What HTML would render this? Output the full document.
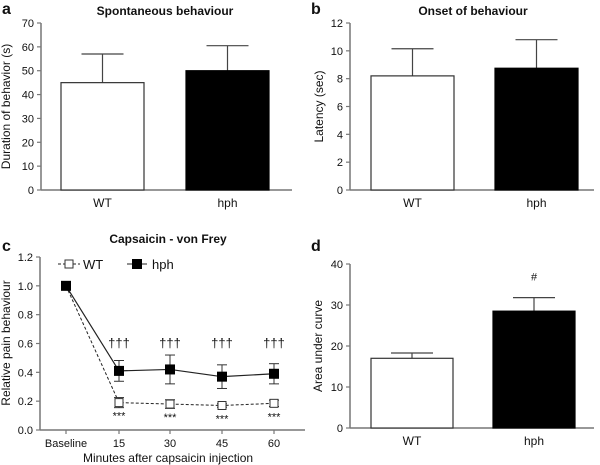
<!DOCTYPE html>
<html><head><meta charset="utf-8"><style>
body{margin:0;background:#fff}
svg{display:block;font-family:"Liberation Sans",Arial,sans-serif}
</style></head><body>
<svg id="s" width="600" height="465" viewBox="0 0 600 465"></svg>
<script>
// Panel a
const catsAB = ["WT","hph"];
const aValues = [45, 50];
const aErrors = [12, 10.5];
const aTicks = [0,10,20,30,40,50,60,70];
// Panel b
const bValues = [8.2, 8.75];
const bErrors = [1.95, 2.05];
const bTicks = [0,2,4,6,8,10,12];
// Panel c
const cCats = ["Baseline","15","30","45","60"];
const cWT = [1, 0.19, 0.18, 0.17, 0.185];
const cWTerr = [0, 0.035, 0.03, 0.012, 0.022];
const cHph = [1, 0.41, 0.42, 0.37, 0.39];
const cHphErr = [0, 0.072, 0.1, 0.082, 0.07];
const cTicks = ["0.0","0.2","0.4","0.6","0.8","1.0","1.2"];
// Panel d
const dValues = [17, 28.5];
const dErrors = [1.3, 3.3];
const dTicks = [0,10,20,30,40];

const S = document.getElementById('s');
const NS = "http://www.w3.org/2000/svg";
function el(tag, attrs, name, parent){
  const e = document.createElementNS(NS, tag);
  for (const k in attrs) e.setAttribute(k, attrs[k]);
  
  
  (parent||S).appendChild(e);
  return e;
}
function txt(x,y,s,name,opt){
  opt=opt||{};
  const t = el('text',{x:x,y:y,'font-size':opt.size||11,'text-anchor':opt.anchor||'middle','font-weight':opt.bold?'bold':'normal',fill:'#111'},name);
  if(opt.rot) t.setAttribute('transform','rotate(-90 '+x+' '+y+')');
  t.textContent=s; return t;
}
const AX = '#777';

function barPanel(p){
  const ys = v => p.y0 - (v - p.min)/(p.max - p.min)*(p.y0 - p.yTop);
  el('line',{x1:p.ax,y1:p.yTop,x2:p.ax,y2:p.y0,stroke:AX,'stroke-width':1.5},p.id+'-y-axis');
  el('line',{x1:p.ax,y1:p.y0,x2:p.axEnd,y2:p.y0,stroke:AX,'stroke-width':1.5},p.id+'-x-axis');
  p.ticks.forEach(t=>{
    el('line',{x1:p.ax-4,y1:ys(t),x2:p.ax,y2:ys(t),stroke:AX,'stroke-width':1.2},p.id+'-y-tick');
    txt(p.ax-7,ys(t)+4,String(t),p.id+'-y-tick-label',{anchor:'end'});
  });
  p.values.forEach((v,i)=>{
    const x=p.barX[i], w=p.barW, cx=x+w/2;
    const top=ys(v+p.errors[i]);
    el('line',{x1:cx,y1:ys(v),x2:cx,y2:top,stroke:'#444','stroke-width':1.2},p.id+'-error-bar');
    el('line',{x1:cx-21,y1:top,x2:cx+21,y2:top,stroke:'#444','stroke-width':1.2},p.id+'-error-cap');
    el('rect',{x:x,y:ys(v),width:w,height:p.y0-ys(v),fill:i?'#000':'#fff',stroke:i?'#000':'#333','stroke-width':1.2},p.id+'-bar-'+catsAB[i].toLowerCase());
    txt(cx,p.y0+17,catsAB[i],p.id+'-x-label',{size:12});
  });
  txt(p.ylx,(p.y0+p.yTop)/2,p.ylabel,p.id+'-y-axis-title',{size:12,rot:true});
  if(p.title) txt(p.titleX,15,p.title,p.id+'-title',{size:12,bold:true});
  txt(p.letterX,p.letterY,p.letter,p.id+'-panel-letter',{size:16,bold:true,anchor:'start'});
  return ys;
}
barPanel({id:'a',ax:41,axEnd:292,y0:190,yTop:23,min:0,max:70,ticks:aTicks,values:aValues,errors:aErrors,barX:[61,186],barW:83,ylabel:'Duration of behavior (s)',ylx:10,title:'Spontaneous behaviour',titleX:165,letter:'a',letterX:2,letterY:14});
barPanel({id:'b',ax:350,axEnd:594,y0:190,yTop:23,min:0,max:12,ticks:bTicks,values:bValues,errors:bErrors,barX:[371,495],barW:83,ylabel:'Latency (sec)',ylx:323,title:'Onset of behaviour',titleX:473,letter:'b',letterX:311,letterY:14});
const ysD = barPanel({id:'d',ax:350,axEnd:594,y0:428,yTop:264,min:0,max:40,ticks:dTicks,values:dValues,errors:dErrors,barX:[371,493],barW:82,ylabel:'Area under curve',ylx:322,title:null,letter:'d',letterX:311,letterY:251});
txt(534,ysD(dValues[1]+dErrors[1])-17,'#','d-significance-hash',{size:11});

// Panel c
(function(){
  const ax=40, y0=430, yTop=257, axEnd=305;
  const ys = v => y0 - v/1.2*(y0-yTop);
  const xs = i => [66,119,170,222,274][0] + i*((274-66)/4) + (i===0?0:(i===1?1:0));
  el('line',{x1:ax,y1:yTop,x2:ax,y2:y0,stroke:AX,'stroke-width':1.5},'c-y-axis');
  el('line',{x1:ax,y1:y0,x2:axEnd,y2:y0,stroke:AX,'stroke-width':1.5},'c-x-axis');
  cTicks.forEach(t=>{
    const y=ys(parseFloat(t));
    el('line',{x1:ax-4,y1:y,x2:ax,y2:y,stroke:AX,'stroke-width':1.2},'c-y-tick');
    txt(ax-7,y+4,t,'c-y-tick-label',{anchor:'end'});
  });
  cCats.forEach((c,i)=>{
    el('line',{x1:xs(i),y1:y0,x2:xs(i),y2:y0+4,stroke:AX,'stroke-width':1.2},'c-x-tick');
    txt(xs(i),y0+17,c,'c-x-tick-label');
  });
  txt(168,462,'Minutes after capsaicin injection','c-x-axis-title',{size:12});
  txt(10,343,'Relative pain behaviour','c-y-axis-title',{size:12,rot:true});
  txt(168,243,'Capsaicin - von Frey','c-title',{size:12,bold:true});
  txt(2,251,'c','c-panel-letter',{size:16,bold:true,anchor:'start'});
  // lines
  el('polyline',{points:cWT.map((v,i)=>xs(i)+','+ys(v)).join(' '),fill:'none',stroke:'#222','stroke-width':1,'stroke-dasharray':'3,2'},'c-line-wt');
  el('polyline',{points:cHph.map((v,i)=>xs(i)+','+ys(v)).join(' '),fill:'none',stroke:'#222','stroke-width':1.2},'c-line-hph');
  function err(x,v,e,n){
    if(!e) return;
    el('line',{x1:x,y1:ys(v-e),x2:x,y2:ys(v+e),stroke:'#333','stroke-width':1},n);
    el('line',{x1:x-5,y1:ys(v-e),x2:x+5,y2:ys(v-e),stroke:'#333','stroke-width':1},n+'-cap');
    el('line',{x1:x-5,y1:ys(v+e),x2:x+5,y2:ys(v+e),stroke:'#333','stroke-width':1},n+'-cap');
  }
  cWT.forEach((v,i)=>{
    err(xs(i),v,cWTerr[i],'c-wt-error');
    el('rect',{x:xs(i)-4,y:ys(v)-4,width:8,height:8,fill:'#fff',stroke:'#333','stroke-width':1},'c-point-wt');
    if(i>0) txt(xs(i),ys(v)+17,'***','c-wt-significance',{size:11});
  });
  cHph.forEach((v,i)=>{
    err(xs(i),v,cHphErr[i],'c-hph-error');
    el('rect',{x:xs(i)-5,y:ys(v)-5,width:10,height:10,fill:'#000'},'c-point-hph');
    if(i>0) txt(xs(i),ys(0.6)+4,'†††','c-hph-significance',{size:13});
  });
  // legend
  el('line',{x1:58,y1:264,x2:80,y2:264,stroke:'#222','stroke-dasharray':'3,2'},'legend-wt-line');
  el('rect',{x:65,y:260,width:8,height:8,fill:'#fff',stroke:'#333'},'legend-wt-marker');
  txt(83,269,'WT','legend-wt-label',{size:13,anchor:'start'});
  el('line',{x1:127,y1:264,x2:147,y2:264,stroke:'#222'},'legend-hph-line');
  el('rect',{x:132,y:259,width:10,height:10,fill:'#000'},'legend-hph-marker');
  txt(152,269,'hph','legend-hph-label',{size:13,anchor:'start'});
})();
</script>
</body></html>
